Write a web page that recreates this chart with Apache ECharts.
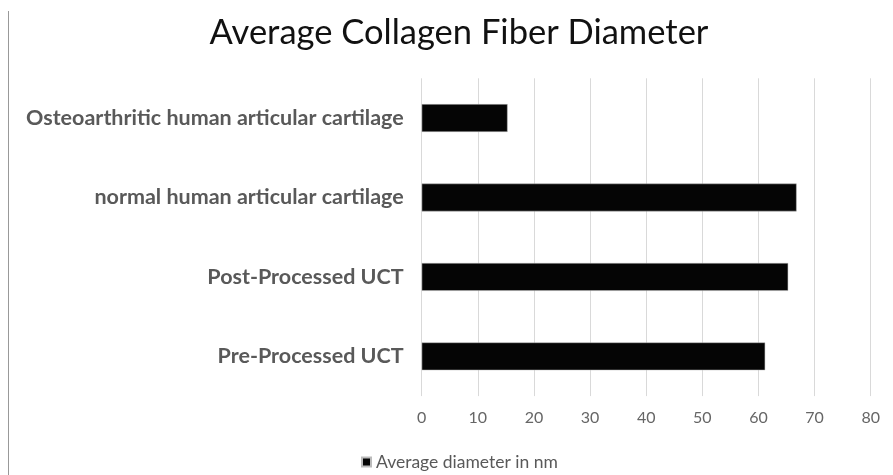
<!DOCTYPE html>
<html>
<head>
<meta charset="utf-8">
<script src="https://cdn.jsdelivr.net/npm/echarts@6/dist/echarts.min.js"></script>
<style>html,body{margin:0;padding:0;background:#fff}#c{width:893px;height:475px}</style>
</head>
<body>
<div id="c"></div>
<script>
const categories = ["Pre-Processed UCT", "Post-Processed UCT", "normal human articular cartilage", "Osteoarthritic human articular cartilage"];
const values = [61.2, 65.3, 66.8, 15.3];
const seriesName = "Average diameter in nm";
const titleText = "Average Collagen Fiber Diameter";

const chart = echarts.init(document.getElementById('c'));
chart.setOption({
  animation: false,
  backgroundColor: '#fff',
  title: {
    text: titleText,
    left: 454, textAlign: 'center', top: 10,
    textStyle: { fontFamily: 'Lato', fontWeight: 'normal', fontSize: 34.5, color: '#111' }
  },
  graphic: [{
    type: 'line', shape: { x1: 8.5, y1: 11, x2: 8.5, y2: 475 },
    style: { stroke: '#999', lineWidth: 1 }
  }],
  legend: {
    data: [seriesName], left: 356, top: 448,
    icon: 'rect', itemWidth: 9, itemHeight: 9,
    textStyle: { fontFamily: 'Lato', fontSize: 17.5, color: '#595959' }
  },
  grid: { left: 421.7, right: 22.3, top: 78.3, bottom: 78.9, containLabel: false },
  xAxis: {
    type: 'value', min: 0, max: 80, interval: 10,
    axisLine: { show: false }, axisTick: { show: false },
    axisLabel: { fontFamily: 'Lato', fontSize: 16, color: '#666', margin: 14 },
    splitLine: { lineStyle: { color: '#d9d9d9', width: 1 } }
  },
  yAxis: {
    type: 'category', data: categories,
    axisLine: { show: false }, axisTick: { show: false },
    axisLabel: { fontFamily: 'Lato', fontWeight: 'bold', fontSize: 21.5, color: '#595959', margin: 18 }
  },
  series: [{
    name: seriesName, type: 'bar', data: values, barWidth: '35%',
    itemStyle: { color: '#050505', borderColor: '#bbb', borderWidth: 0.5 }
  }]
});
</script>
</body>
</html>
